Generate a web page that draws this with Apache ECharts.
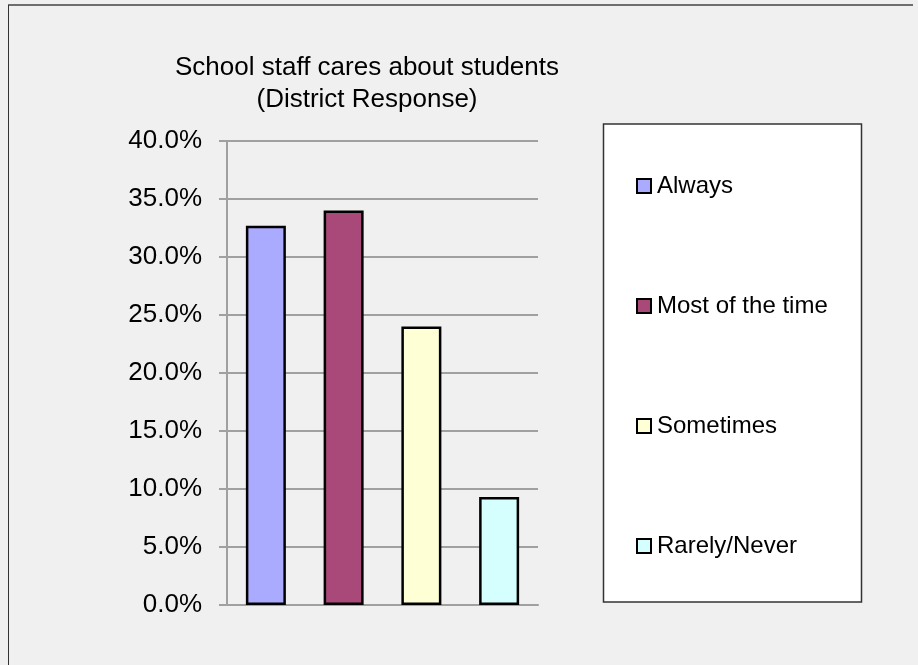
<!DOCTYPE html>
<html>
<head>
<meta charset="utf-8">
<script src="https://cdn.jsdelivr.net/npm/echarts@6/dist/echarts.min.js"></script>
<style>
html,body{margin:0;padding:0;background:#f0f0f0;}
#chart{width:918px;height:665px;}
</style>
</head>
<body>
<div id="chart"></div>
<script>
const titleText = "School staff cares about students\n(District Response)";
const categories = ["Always", "Most of the time", "Sometimes", "Rarely/Never"];
const values = [32.7, 34.0, 24.0, 9.3];
const colors = ["#AAAAFF", "#A9497A", "#FFFFD5", "#D5FFFF"];
const yTicks = { min: 0, max: 40, interval: 5 };

const FONT = "Liberation Sans, Arial, sans-serif";

const series = categories.map((name, i) => ({
  name: name,
  type: "bar",
  stack: "one",
  barWidth: 40,
  data: categories.map((c, j) => (j === i ? values[i] : null)),
  itemStyle: { color: colors[i], borderColor: "#000", borderWidth: 2.5 },
  emphasis: { disabled: true }
}));

const chart = echarts.init(document.getElementById("chart"), null, { renderer: "canvas" });
chart.setOption({
  backgroundColor: "#f0f0f0",
  animation: false,
  title: {
    text: titleText,
    left: 362,
    top: 47,
    textAlign: "center",
    textStyle: { fontFamily: FONT, fontSize: 26, fontWeight: "normal", color: "#000", lineHeight: 32 }
  },
  graphic: [
    { type: "line", shape: { x1: 8, y1: 5, x2: 913, y2: 5 }, style: { stroke: "#6e6e6e", lineWidth: 2 }, z: 0 },
    { type: "line", shape: { x1: 8.5, y1: 5, x2: 8.5, y2: 665 }, style: { stroke: "#333", lineWidth: 1 }, z: 0 },
    { type: "rect", shape: { x: 603.5, y: 124, width: 258, height: 478 }, style: { fill: "#fff", stroke: "#333", lineWidth: 1.5 }, z: 0 }
  ],
  legend: {
    orient: "vertical",
    left: 636,
    top: 174,
    padding: 0,
    itemWidth: 14,
    itemHeight: 14,
    itemGap: 96,
    icon: "rect",
    selectedMode: false,
    data: categories,
    textStyle: { fontFamily: FONT, fontSize: 24, color: "#000", lineHeight: 24, padding: [0, 0, 0, 1] }
  },
  grid: { left: 227, right: 380, top: 141, bottom: 60, containLabel: false },
  xAxis: {
    type: "category",
    data: categories,
    axisLine: { show: true, lineStyle: { color: "#a0a0a0", width: 2 } },
    axisTick: { show: false },
    axisLabel: { show: false }
  },
  yAxis: {
    type: "value",
    min: yTicks.min,
    max: yTicks.max,
    interval: yTicks.interval,
    axisLine: { show: true, lineStyle: { color: "#a0a0a0", width: 2 } },
    axisTick: { show: true, length: 8, lineStyle: { color: "#a0a0a0", width: 2 } },
    splitLine: { show: true, lineStyle: { color: "#a0a0a0", width: 2 } },
    axisLabel: {
      margin: 25,
      fontFamily: FONT,
      fontSize: 26,
      color: "#000",
      formatter: v => v.toFixed(1) + "%"
    }
  },
  series: series
});
</script>
</body>
</html>
